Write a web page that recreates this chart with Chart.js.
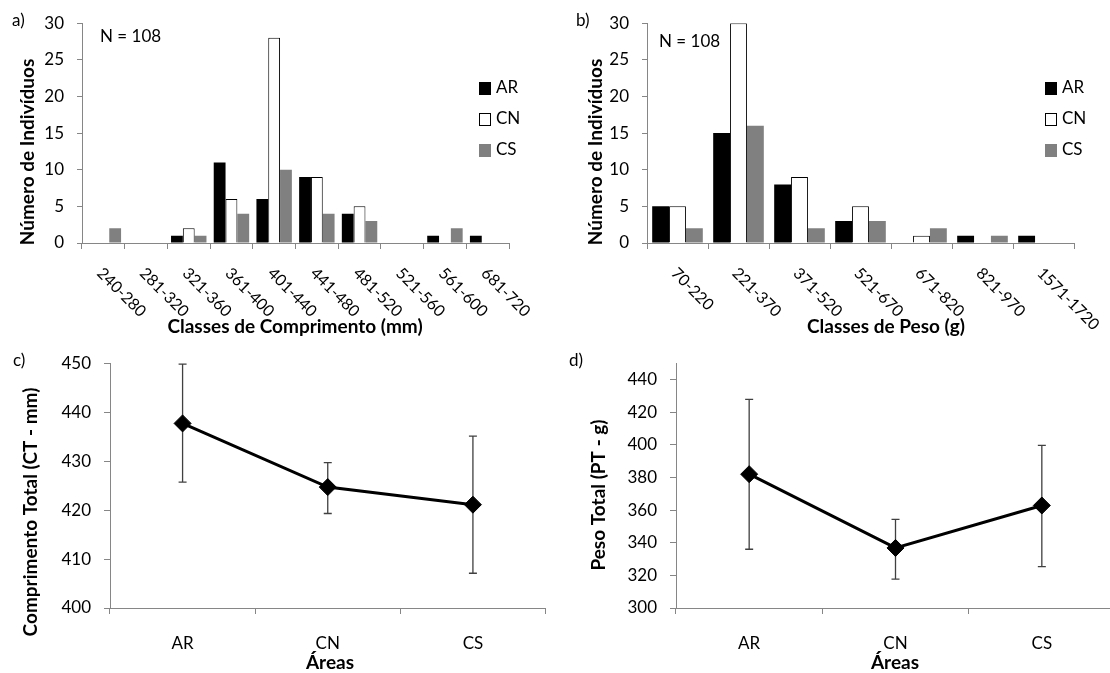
<!DOCTYPE html>
<html>
<head>
<meta charset="utf-8">
<script src="https://cdn.jsdelivr.net/npm/chart.js@4.4.1/dist/chart.umd.min.js"></script>
<style>
  html, body { margin: 0; padding: 0; background: #fff; overflow: hidden; }
  #wrap { position: relative; width: 1110px; height: 673px; overflow: hidden; }
  canvas { position: absolute; }
</style>
</head>
<body>
<div id="wrap">
  <canvas id="chartA" width="555" height="340" style="left:0;top:0"></canvas>
  <canvas id="chartB" width="555" height="340" style="left:555px;top:0"></canvas>
  <canvas id="chartC" width="555" height="333" style="left:0;top:340px"></canvas>
  <canvas id="chartD" width="570" height="333" style="left:555px;top:340px"></canvas>
</div>
<script>
// a) length classes (mm)
const lengthClasses = ["240-280", "281-320", "321-360", "361-400", "401-440", "441-480", "481-520", "521-560", "561-600", "681-720"];
const lengthAR = [0, 0, 1, 11, 6, 9, 4, 0, 1, 1];
const lengthCN = [0, 0, 2, 6, 28, 9, 5, 0, 0, 0];
const lengthCS = [2, 0, 1, 4, 10, 4, 3, 0, 2, 0];

// b) weight classes (g)
const weightClasses = ["70-220", "221-370", "371-520", "521-670", "671-820", "821-970", "1571-1720"];
const weightAR = [5, 15, 8, 3, 0, 1, 1];
const weightCN = [5, 30, 9, 5, 1, 0, 0];
const weightCS = [2, 16, 2, 3, 2, 1, 0];
const countTicks = [0, 5, 10, 15, 20, 25, 30];

// c) / d) means per area with error bars
const areas = ["AR", "CN", "CS"];
const lengthMean = [437.7, 424.7, 421.1];
const lengthLow = [425.7, 419.3, 407.1];
const lengthHigh = [449.8, 429.7, 435.1];
const lengthTicks = [400, 410, 420, 430, 440, 450];
const weightMean = [382, 336.8, 362.8];
const weightLow = [336, 317.7, 325.4];
const weightHigh = [427.8, 354.3, 399.6];
const weightTicks = [300, 320, 340, 360, 380, 400, 420, 440];

const AXIS = "#868686";
const FONT = "Lato, 'Liberation Sans', sans-serif";

Chart.defaults.font.family = FONT;
Chart.defaults.font.size = 17;
Chart.defaults.color = "#000";
Chart.defaults.animation = false;
Chart.defaults.plugins.legend.display = false;
Chart.defaults.plugins.tooltip.enabled = false;

// extra texts, legend, rotated labels and error bars for each panel
const extras = {
  chartA: {
    texts: [
      { text: "a)", x: 12, y: 21 },
      { text: "N = 108", x: 100, y: 37 },
      { text: "Número de Indivíduos", x: 28, y: 152, bold: true, rotate: true },
      { text: "Classes de Comprimento (mm)", x: 295, y: 327, bold: true, center: true }
    ],
    legend: { x: 479, ys: [88, 119, 150] },
    rotatedLabels: true
  },
  chartB: {
    texts: [
      { text: "b)", x: 21, y: 21 },
      { text: "N = 108", x: 104, y: 42 },
      { text: "Número de Indivíduos", x: 41, y: 152, bold: true, rotate: true },
      { text: "Classes de Peso (g)", x: 331, y: 327, bold: true, center: true }
    ],
    legend: { x: 490, ys: [88, 119, 150] },
    rotatedLabels: true
  },
  chartC: {
    texts: [
      { text: "c)", x: 13, y: 21 },
      { text: "Comprimento Total (CT - mm)", x: 31, y: 172, bold: true, rotate: true },
      { text: "Áreas", x: 330, y: 323, bold: true, center: true }
    ],
    errors: { low: lengthLow, high: lengthHigh }
  },
  chartD: {
    texts: [
      { text: "d)", x: 14, y: 21 },
      { text: "Peso Total (PT - g)", x: 44, y: 155, bold: true, rotate: true },
      { text: "Áreas", x: 340, y: 323, bold: true, center: true }
    ],
    errors: { low: weightLow, high: weightHigh }
  }
};

const extrasPlugin = {
  id: "extras",
  beforeDatasetsDraw(chart) {
    const ex = extras[chart.canvas.id];
    if (!ex || !ex.errors) return;
    const ctx = chart.ctx;
    const y = chart.scales.y;
    const pts = chart.getDatasetMeta(0).data;
    ctx.save();
    ctx.strokeStyle = "#404040";
    ctx.lineWidth = 1.3;
    pts.forEach((p, i) => {
      const top = y.getPixelForValue(ex.errors.high[i]);
      const bot = y.getPixelForValue(ex.errors.low[i]);
      ctx.beginPath();
      ctx.moveTo(p.x, top); ctx.lineTo(p.x, bot);
      ctx.moveTo(p.x - 4, top); ctx.lineTo(p.x + 4, top);
      ctx.moveTo(p.x - 4, bot); ctx.lineTo(p.x + 4, bot);
      ctx.stroke();
    });
    ctx.restore();
  },
  afterDraw(chart) {
    const ex = extras[chart.canvas.id];
    if (!ex) return;
    const ctx = chart.ctx;
    ctx.save();
    ctx.fillStyle = "#000";

    ex.texts.forEach(t => {
      ctx.font = t.bold ? "bold 19px " + FONT : "17px " + FONT;
      ctx.textBaseline = "middle";
      if (t.rotate) {
        ctx.save();
        ctx.translate(t.x, t.y);
        ctx.rotate(-Math.PI / 2);
        ctx.textAlign = "center";
        ctx.fillText(t.text, 0, 0);
        ctx.restore();
      } else {
        ctx.textAlign = t.center ? "center" : "left";
        ctx.fillText(t.text, t.x, t.y);
      }
    });

    if (ex.rotatedLabels) {
      const xs = chart.scales.x;
      ctx.font = "16px " + FONT;
      ctx.textAlign = "left";
      ctx.textBaseline = "top";
      chart.data.labels.forEach((lab, i) => {
        ctx.save();
        ctx.translate(xs.getPixelForValue(i) + 2, chart.chartArea.bottom + 22);
        ctx.rotate(Math.PI / 4);
        ctx.fillText(lab, 0, 0);
        ctx.restore();
      });
    }

    if (ex.legend) {
      ctx.font = "17px " + FONT;
      ctx.textAlign = "left";
      ctx.textBaseline = "middle";
      chart.data.datasets.forEach((ds, i) => {
        const y = ex.legend.ys[i];
        ctx.fillStyle = ds.backgroundColor;
        ctx.fillRect(ex.legend.x, y - 6, 12, 13);
        if (ds.borderWidth) {
          ctx.strokeStyle = ds.borderColor;
          ctx.lineWidth = 1;
          ctx.strokeRect(ex.legend.x + 0.5, y - 5.5, 11, 12);
        }
        ctx.fillStyle = "#000";
        ctx.fillText(ds.label, ex.legend.x + 17, y);
      });
    }
    ctx.restore();
  }
};

function fixedTicks(values) {
  return s => { s.ticks = values.map(v => ({ value: v })); };
}

function barChart(id, labels, ar, cn, cs, yWidth, padRight) {
  return new Chart(document.getElementById(id), {
    type: "bar",
    data: {
      labels: labels,
      datasets: [
        { label: "AR", data: ar, backgroundColor: "#000000", borderWidth: 0 },
        { label: "CN", data: cn, backgroundColor: "#ffffff", borderColor: "#000000", borderWidth: 1 },
        { label: "CS", data: cs, backgroundColor: "#808080", borderWidth: 0 }
      ]
    },
    options: {
      responsive: false,
      datasets: { bar: { categoryPercentage: 0.83, barPercentage: 1.0 } },
      layout: { padding: { top: 21, right: padRight, left: 0, bottom: 0 } },
      scales: {
        x: {
          grid: { drawOnChartArea: false, offset: true, tickLength: 6, color: AXIS },
          border: { color: AXIS },
          ticks: { display: false },
          afterFit: s => { s.height = 97; }
        },
        y: {
          min: 0, max: 30,
          ticks: { padding: 13 },
          grid: { drawOnChartArea: false, tickLength: 5, color: AXIS },
          border: { color: AXIS },
          afterBuildTicks: fixedTicks(countTicks),
          afterFit: s => { s.width = yWidth; }
        }
      }
    },
    plugins: [extrasPlugin]
  });
}

function lineChart(id, means, ticks, yMin, yMax, yWidth, padRight) {
  return new Chart(document.getElementById(id), {
    type: "line",
    data: {
      labels: areas,
      datasets: [{
        label: "média",
        data: means,
        borderColor: "#000",
        borderWidth: 3,
        tension: 0,
        pointStyle: "rectRot",
        pointRadius: 8.5,
        pointBackgroundColor: "#000",
        pointBorderColor: "#000",
        pointBorderWidth: 1
      }]
    },
    options: {
      responsive: false,
      layout: { padding: { top: 20, right: padRight, left: 0, bottom: 0 } },
      scales: {
        x: {
          offset: true,
          grid: { drawOnChartArea: false, offset: true, tickLength: 6, color: AXIS },
          border: { color: AXIS },
          ticks: { padding: 19 },
          afterFit: s => { s.height = 65; }
        },
        y: {
          min: yMin, max: yMax,
          ticks: { padding: 13 },
          grid: { drawOnChartArea: false, tickLength: 6, color: AXIS },
          border: { color: AXIS },
          afterBuildTicks: fixedTicks(ticks),
          afterFit: s => { s.width = yWidth; }
        }
      }
    },
    plugins: [extrasPlugin]
  });
}

barChart("chartA", lengthClasses, lengthAR, lengthCN, lengthCS, 82, 46);
barChart("chartB", weightClasses, weightAR, weightCN, weightCS, 92, 36);
lineChart("chartC", lengthMean, lengthTicks, 400, 450, 110, 6);
lineChart("chartD", weightMean, weightTicks, 300, 450, 121, 10);
</script>
</body>
</html>
